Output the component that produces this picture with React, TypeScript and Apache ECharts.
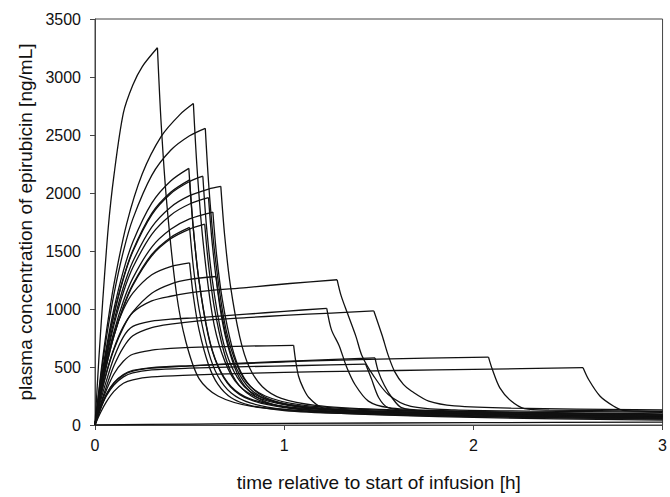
import React, { useEffect, useRef } from 'react';
import * as echarts from 'echarts';

const xTicks = [0, 1, 2, 3];
const yTicks = [0, 500, 1000, 1500, 2000, 2500, 3000, 3500];
const xTitle = 'time relative to start of infusion [h]';
const yTitle = 'plasma concentration of epirubicin [ng/mL]';

// each patient: rise during infusion, fall after end of infusion  [time h, conc ng/mL]
const p1Rise = [[0,0],[0.02,560],[0.04,1050],[0.07,1700],[0.1,2150],[0.15,2690],[0.2,2930],[0.25,3090],[0.33,3252]];
const p1Fall = [[0.33,3252],[0.35,2590],[0.38,1900],[0.43,1140],[0.48,720],[0.55,400],[0.65,250],[0.83,160],[1.13,120],[1.5,100],[2,85],[3,62]];
const p2Rise = [[0,0],[0.03,434],[0.06,802],[0.1,1212],[0.167,1732],[0.25,2165],[0.35,2488],[0.45,2678],[0.52,2771]];
const p2Fall = [[0.52,2771],[0.54,2200],[0.57,1600],[0.62,950],[0.67,620],[0.74,380],[0.84,250],[1.02,170],[1.32,125],[2,95],[3,72]];
const p3Rise = [[0,0],[0.03,405],[0.06,749],[0.1,1127],[0.15,1497],[0.2,1777],[0.3,2152],[0.4,2368],[0.5,2493],[0.583,2557]];
const p3Fall = [[0.583,2557],[0.603,2030],[0.633,1480],[0.683,900],[0.733,590],[0.8,370],[0.9,250],[1.08,175],[1.4,135],[2,110],[3,85]];
const p4Rise = [[0,0],[0.03,360],[0.06,665],[0.1,1000],[0.15,1329],[0.2,1578],[0.3,1912],[0.4,2103],[0.496,2212]];
const p4Fall = [[0.496,2212],[0.516,1760],[0.546,1290],[0.596,790],[0.646,520],[0.716,330],[0.816,220],[1,150],[1.3,110],[2,80],[3,58]];
const p5Rise = [[0,0],[0.03,343],[0.06,634],[0.1,955],[0.15,1268],[0.2,1505],[0.3,1824],[0.4,2006],[0.5,2113]];
const p5Fall = [[0.5,2113],[0.52,1690],[0.55,1240],[0.6,770],[0.65,510],[0.72,330],[0.82,225],[1,160],[1.3,125],[2,95],[3,75]];
const p6Rise = [[0,0],[0.03,341],[0.06,630],[0.1,949],[0.15,1261],[0.2,1496],[0.3,1812],[0.4,1994],[0.5,2099],[0.57,2145]];
const p6Fall = [[0.57,2145],[0.59,1700],[0.62,1250],[0.67,770],[0.72,510],[0.79,330],[0.89,230],[1.07,165],[1.4,125],[2,100],[3,80]];
const p7Rise = [[0,0],[0.03,321],[0.06,593],[0.1,893],[0.15,1187],[0.2,1409],[0.3,1706],[0.4,1878],[0.5,1977],[0.6,2034],[0.665,2057]];
const p7Fall = [[0.665,2057],[0.685,1640],[0.715,1210],[0.765,760],[0.815,500],[0.885,330],[0.985,230],[1.165,170],[1.5,135],[2,115],[3,95]];
const p8Rise = [[0,0],[0.03,309],[0.06,572],[0.1,861],[0.15,1144],[0.2,1357],[0.3,1644],[0.4,1809],[0.5,1905],[0.6,1960]];
const p8Fall = [[0.6,1960],[0.62,1560],[0.65,1150],[0.7,720],[0.75,480],[0.82,310],[0.92,215],[1.1,155],[1.4,120],[2,95],[3,70]];
const p9Rise = [[0,0],[0.03,288],[0.06,533],[0.1,803],[0.15,1067],[0.2,1266],[0.3,1534],[0.4,1687],[0.5,1777],[0.623,1836]];
const p9Fall = [[0.623,1836],[0.643,1460],[0.673,1080],[0.723,680],[0.773,450],[0.843,300],[0.943,210],[1.12,155],[1.45,120],[2,100],[3,78]];
const p10Rise = [[0,0],[0.03,274],[0.06,507],[0.1,764],[0.15,1014],[0.2,1204],[0.3,1458],[0.4,1605],[0.5,1689],[0.58,1731]];
const p10Fall = [[0.58,1731],[0.6,1380],[0.63,1020],[0.68,640],[0.73,420],[0.8,280],[0.9,195],[1.08,140],[1.4,105],[2,75],[3,50]];
const p11Rise = [[0,0],[0.03,276],[0.06,511],[0.1,769],[0.15,1022],[0.2,1213],[0.3,1470],[0.4,1617],[0.5,1703]];
const p11Fall = [[0.5,1703],[0.52,1360],[0.55,1000],[0.6,630],[0.65,420],[0.72,275],[0.82,190],[1,135],[1.3,100],[2,65],[3,42]];
const p12Rise = [[0,0],[0.03,303],[0.06,542],[0.1,785],[0.15,995],[0.2,1137],[0.3,1295],[0.4,1366],[0.5,1398]];
const p12Fall = [[0.5,1398],[0.52,1110],[0.55,820],[0.6,520],[0.65,350],[0.72,235],[0.82,170],[1,125],[1.3,100],[2,72],[3,52]];
const p13Rise = [[0,0],[0.03,245],[0.06,444],[0.1,651],[0.15,841],[0.2,975],[0.3,1136],[0.4,1215],[0.5,1255],[0.64,1280]];
const p13Fall = [[0.64,1280],[0.66,1020],[0.69,760],[0.74,490],[0.79,340],[0.86,235],[0.96,170],[1.14,130],[1.45,110],[2,90],[3,70]];
const p14Rise = [[0,0],[0.03,250],[0.06,450],[0.1,660],[0.15,850],[0.2,970],[0.3,1070],[0.4,1110],[0.55,1150],[0.8,1185],[1.03,1220],[1.28,1252]];
const p14Fall = [[1.28,1252],[1.3,1120],[1.333,969],[1.38,760],[1.41,602],[1.47,430],[1.55,263],[1.67,160],[1.9,130],[2.3,120],[3,110]];
const p15Rise = [[0,0],[0.03,210],[0.06,380],[0.1,580],[0.15,760],[0.2,850],[0.3,895],[0.4,912],[0.55,926],[0.8,955],[1,980],[1.225,1006]];
const p15Fall = [[1.225,1006],[1.25,820],[1.29,686],[1.33,500],[1.375,347],[1.445,206],[1.55,150],[1.8,125],[2.3,105],[3,90]];
const p16Rise = [[0,0],[0.03,180],[0.06,330],[0.1,510],[0.15,670],[0.2,770],[0.3,840],[0.4,870],[0.55,898],[0.8,925],[1,945],[1.25,965],[1.474,983]];
const p16Fall = [[1.474,983],[1.518,771],[1.55,600],[1.584,460],[1.63,350],[1.674,291],[1.764,206],[1.9,165],[2.2,145],[3,130]];
const p17Rise = [[0,0],[0.03,170],[0.06,300],[0.1,440],[0.15,550],[0.2,610],[0.3,645],[0.4,660],[0.55,672],[0.8,680],[1.05,686]];
const p17Fall = [[1.05,686],[1.06,560],[1.076,420],[1.1,320],[1.13,237],[1.2,150],[1.35,115],[1.7,95],[2.3,80],[3,65]];
const p18Rise = [[0,0],[0.03,150],[0.06,260],[0.1,360],[0.15,430],[0.2,465],[0.3,490],[0.5,510],[0.8,535],[1.1,555],[1.48,579]];
const p18Fall = [[1.48,579],[1.498,460],[1.53,340],[1.57,235],[1.62,150],[1.75,120],[2.2,105],[3,90]];
const p19Rise = [[0,0],[0.03,140],[0.06,250],[0.1,345],[0.15,415],[0.2,450],[0.3,475],[0.5,490],[0.8,503],[1.1,513],[1.43,525]];
const p19Fall = [[1.43,525],[1.46,404],[1.5,235],[1.55,150],[1.7,120],[2.2,100],[3,80]];
const p20Rise = [[0,0],[0.03,150],[0.06,265],[0.1,365],[0.15,435],[0.2,470],[0.3,495],[0.5,510],[0.8,530],[1.1,550],[1.5,568],[2.08,585]];
const p20Fall = [[2.08,585],[2.1,480],[2.14,320],[2.2,206],[2.27,141],[2.4,128],[3,120]];
const p21Rise = [[0,0],[0.03,110],[0.06,200],[0.1,290],[0.15,360],[0.2,390],[0.3,415],[0.5,430],[0.8,445],[1.2,460],[1.6,470],[2,480],[2.58,494]];
const p21Fall = [[2.58,494],[2.61,390],[2.67,248],[2.74,164],[2.79,127],[2.9,118],[3,115]];
const p22Low = [[0,0],[0.5,8],[1,14],[2,20],[3,24]];

const segments = [
  p1Rise, p1Fall, p2Rise, p2Fall, p3Rise, p3Fall, p4Rise, p4Fall, p5Rise, p5Fall,
  p6Rise, p6Fall, p7Rise, p7Fall, p8Rise, p8Fall, p9Rise, p9Fall, p10Rise, p10Fall,
  p11Rise, p11Fall, p12Rise, p12Fall, p13Rise, p13Fall, p14Rise, p14Fall, p15Rise, p15Fall,
  p16Rise, p16Fall, p17Rise, p17Fall, p18Rise, p18Fall, p19Rise, p19Fall, p20Rise, p20Fall,
  p21Rise, p21Fall, p22Low,
];

const FONT = '"Liberation Sans", Arial, Helvetica, sans-serif';

export default function App() {
  const ref = useRef<HTMLDivElement>(null);
  useEffect(() => {
    document.body.style.margin = '0';
    const chart = echarts.init(ref.current as HTMLDivElement, null, { renderer: 'svg' });
    const series = segments.map((d, i) => ({
      type: 'line',
      name: 's' + i,
      data: d,
      smooth: 0.3,
      showSymbol: false,
      symbol: 'none',
      silent: true,
      lineStyle: { color: '#111', width: 1.3 },
    }));
    chart.setOption({
      animation: false,
      backgroundColor: '#ffffff',
      grid: { left: 95, right: 5, top: 19, bottom: 66, show: true, borderColor: '#444', borderWidth: 1 },
      xAxis: {
        type: 'value', min: xTicks[0], max: xTicks[xTicks.length - 1], interval: 1,
        name: xTitle, nameLocation: 'middle', nameGap: 48,
        nameTextStyle: { fontSize: 19, color: '#111', fontFamily: FONT },
        axisLine: { show: true, onZero: false, lineStyle: { color: '#444', width: 1 } },
        axisTick: { show: true, inside: false, length: 5, lineStyle: { color: '#444' } },
        axisLabel: { fontSize: 16, color: '#111', margin: 12, fontFamily: FONT, formatter: (v: number) => String(v) },
        splitLine: { show: false },
      },
      yAxis: {
        type: 'value', min: yTicks[0], max: yTicks[yTicks.length - 1], interval: 500,
        name: yTitle, nameLocation: 'middle', nameGap: 60,
        nameTextStyle: { fontSize: 19, color: '#111', fontFamily: FONT },
        axisLine: { show: true, onZero: false, lineStyle: { color: '#444', width: 1 } },
        axisTick: { show: true, inside: false, length: 5, lineStyle: { color: '#444' } },
        axisLabel: { fontSize: 16, color: '#111', margin: 14, fontFamily: FONT, formatter: (v: number) => String(v) },
        splitLine: { show: false },
      },
      series,
    });
    return () => chart.dispose();
  }, []);
  return <div ref={ref} style={{ width: 670, height: 497 }} />;
}
